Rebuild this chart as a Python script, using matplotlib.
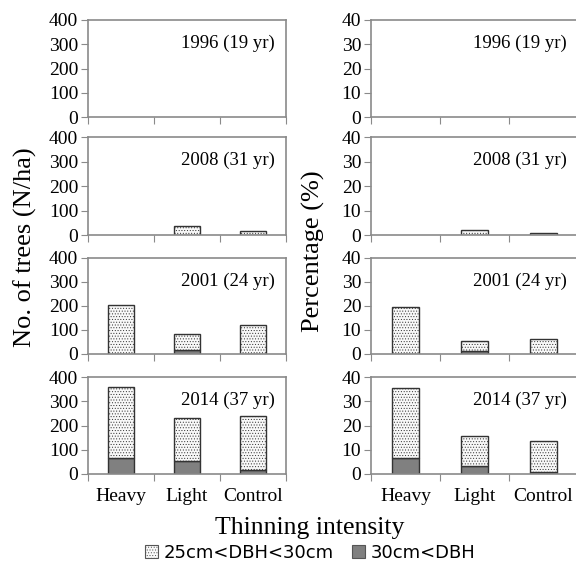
import matplotlib
matplotlib.use('Agg')
import matplotlib.pyplot as plt
from matplotlib.patches import Patch
import numpy as np

# categories and panel titles
categories = ['Heavy', 'Light', 'Control']
years = ['1996 (19 yr)', '2008 (31 yr)', '2001 (24 yr)', '2014 (37 yr)']

# number of trees (N/ha): total of 25cm<DBH and the 30cm<DBH part
n_total = [[0, 0, 0], [0, 35, 18], [205, 83, 122], [358, 229, 238]]
n_large = [[0, 0, 0], [0, 0, 0], [0, 17, 0], [68, 52, 17]]

# percentage (%)
p_total = [[0, 0, 0], [0, 2.2, 0.8], [19.6, 5.5, 6.3], [35.3, 15.6, 13.7]]
p_large = [[0, 0, 0], [0, 0, 0], [0, 1.2, 0], [6.6, 3.5, 0.9]]

plt.rcParams['font.family'] = 'Liberation Serif'
plt.rcParams['hatch.linewidth'] = 0.4
plt.rcParams['hatch.color'] = '#b4b4b4'

W, H = 576, 568
fig = plt.figure(figsize=(W / 100, H / 100), dpi=100)

spine_col = '#8a8a8a'
rows = [(20, 117), (137, 235), (258, 354), (377, 474)]
cols = [(88, 286, n_total, n_large, 400, 100),
        (371, 578, p_total, p_large, 40, 10)]

x = np.arange(len(categories))
for left, right, tot, big, ymax, step in cols:
    for r, (top, bot) in enumerate(rows):
        ax = fig.add_axes([left / W, 1 - bot / H, (right - left) / W, (bot - top) / H])
        for i in x:
            # skip empty bars so no edge line is drawn at zero
            b = big[r][i]
            s = tot[r][i] - b
            if b > 0:
                ax.bar(i, b, width=0.4, color='#808080', edgecolor='#333333', linewidth=1)
            if s > 0:
                ax.bar(i, s, width=0.4, bottom=b, color='#f8f8f8', hatch='......',
                       edgecolor='#333333', linewidth=1)
        ax.set_xlim(-0.5, 2.5)
        ax.set_ylim(0, ymax)
        ax.set_yticks(np.arange(0, ymax + 1, step))
        ax.set_xticks([-0.5, 0.5, 1.5, 2.5])
        ax.set_xticklabels([])
        ax.set_xticks(x, minor=True)
        if r == 3:
            ax.set_xticklabels(categories, minor=True, fontsize=14)
        ax.tick_params(axis='x', which='minor', length=0, pad=10)
        ax.tick_params(axis='both', which='major', length=5, color=spine_col,
                       labelsize=14, pad=2)
        for sp in ax.spines.values():
            sp.set_color(spine_col)
            sp.set_linewidth(1.2)
        ax.text(0.945, 0.76, years[r], transform=ax.transAxes, ha='right',
                va='center', fontsize=13.5)

fig.text(25 / W, 1 - 247 / H, 'No. of trees (N/ha)', rotation=90, ha='center',
         va='center', fontsize=19)
fig.text(313 / W, 1 - 251 / H, 'Percentage (%)', rotation=90, ha='center',
         va='center', fontsize=19)
fig.text(310 / W, 1 - 528 / H, 'Thinning intensity', ha='center', va='center',
         fontsize=18.5)

handles = [Patch(facecolor='#f8f8f8', hatch='......', edgecolor='#555555', linewidth=0.8),
           Patch(facecolor='#808080', edgecolor='#555555', linewidth=0.8)]
fig.legend(handles, ['25cm<DBH<30cm', '30cm<DBH'], loc='center',
           bbox_to_anchor=(310 / W, 1 - 553 / H), ncol=2, frameon=False,
           handlelength=0.75, handleheight=0.75, handletextpad=0.3, columnspacing=1.0,
           prop={'family': 'DejaVu Sans', 'size': 13})

fig.savefig('out.png', dpi=100)
